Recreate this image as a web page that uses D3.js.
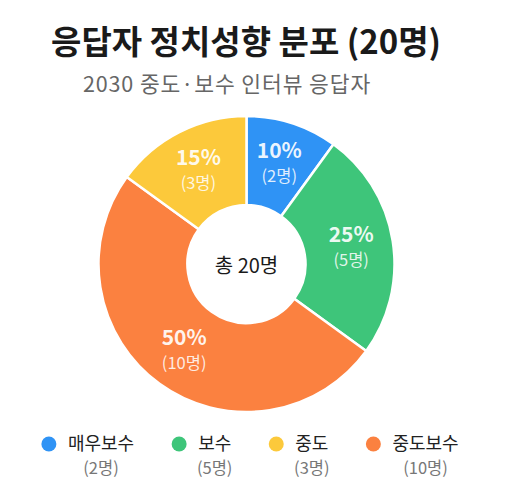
<!DOCTYPE html>
<html><head><meta charset="utf-8">
<script src="https://cdn.jsdelivr.net/npm/d3@7"></script>
<style>
html,body{margin:0;padding:0;background:#fff;}
svg{display:block;font-family:"Noto Sans CJK KR","Noto Sans",sans-serif;}
</style></head>
<body>
<svg id="chart" width="520" height="500"></svg>
<script>
const categories = ["매우보수", "보수", "중도보수", "중도"];
const counts = [2, 5, 10, 3];
const colors = ["#2f93f5", "#3ec57a", "#fb8140", "#fcc93b"];
const legendOrder = ["매우보수", "보수", "중도", "중도보수"];
const titleText = "응답자 정치성향 분포 (20명)";
const subtitleText = "2030 중도·보수 인터뷰 응답자";
const centerText = "총 20명";

const svg = d3.select("#chart");
const total = d3.sum(counts);
const data = categories.map((c, i) => ({cat: c, count: counts[i], color: colors[i]}));

svg.append("text").attr("x", 246).attr("y", 54).attr("text-anchor", "middle")
  .attr("font-size", 33).attr("font-weight", 700).attr("fill", "#1a1a1a").text(titleText);
svg.append("text").attr("x", 227).attr("y", 92).attr("text-anchor", "middle")
  .attr("font-size", 21.5).attr("letter-spacing", 0.9).attr("fill", "#666").text(subtitleText);

const cx = 246.5, cy = 264, R = 148, r0 = 59;
const g = svg.append("g").attr("transform", `translate(${cx},${cy})`);
const pie = d3.pie().value(d => d.count).sort(null);
const arc = d3.arc().innerRadius(r0).outerRadius(R);
const labelArc = d3.arc().innerRadius(106).outerRadius(106);
const arcs = pie(data);

g.selectAll("path").data(arcs).join("path")
  .attr("d", arc).attr("fill", d => d.data.color)
  .attr("stroke", "#fff").attr("stroke-width", 2.5);

const lab = g.selectAll("g.lab").data(arcs).join("g").attr("class", "lab")
  .attr("transform", d => `translate(${labelArc.centroid(d)})`);
lab.append("text").attr("text-anchor", "middle").attr("y", -5)
  .attr("font-size", 21).attr("font-weight", 700).attr("fill", "#fff").attr("fill-opacity", 0.92)
  .text(d => Math.round(d.data.count / total * 100) + "%");
lab.append("text").attr("text-anchor", "middle").attr("y", 19)
  .attr("font-size", 16.5).attr("fill", "#fff").attr("fill-opacity", 0.85)
  .text(d => "(" + d.data.count + "명)");

g.append("text").attr("text-anchor", "middle").attr("y", 9)
  .attr("font-size", 20).attr("font-weight", 400).attr("fill", "#1a1a1a").text(centerText);

// legend
const legData = legendOrder.map(c => data.find(d => d.cat === c));
const leg = svg.append("g");
const items = leg.selectAll("g").data(legData).join("g");
items.append("circle").attr("r", 7.5).attr("cx", 0).attr("cy", 444).attr("fill", d => d.color);
items.append("text").attr("class", "ln").attr("x", 19).attr("y", 450)
  .attr("font-size", 18).attr("font-weight", 400).attr("fill", "#222").text(d => d.cat);
let x = 0;
const positions = [];
items.each(function(d) {
  const w = d3.select(this).select("text.ln").node().getComputedTextLength();
  positions.push({x, w});
  x += 19 + w + 45;
});
const totalW = x - 45;
const startX = 250 - (totalW + 7.5) / 2 + 7.5;
items.attr("transform", (d, i) => `translate(${startX + positions[i].x},0)`);
items.append("text").attr("x", (d, i) => 19 + positions[i].w / 2).attr("y", 474)
  .attr("text-anchor", "middle").attr("font-size", 16.5).attr("fill", "#777")
  .text(d => "(" + d.count + "명)");
</script>
</body></html>
